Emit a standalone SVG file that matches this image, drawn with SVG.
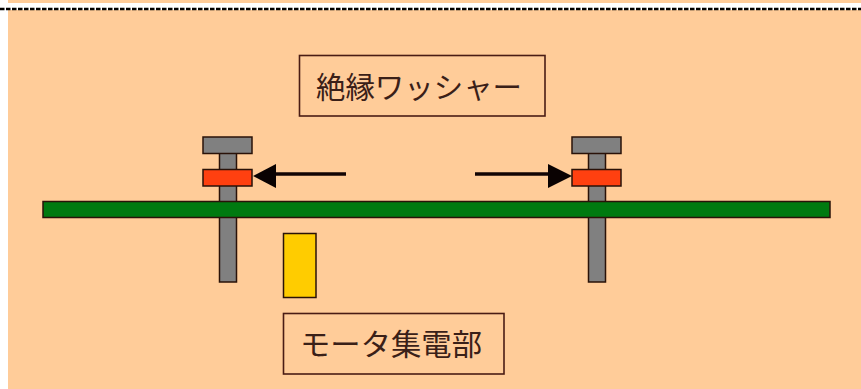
<svg xmlns="http://www.w3.org/2000/svg" width="861" height="389" viewBox="0 0 861 389">
<style>
.s{stroke:#2a1208;stroke-width:1.5}
.bolt{fill:#808080}
.washer{fill:#ff4010}
.lbl{fill:none;stroke:#4a1c14;stroke-width:1.6}
text{font-family:"Noto Sans CJK JP","Noto Sans CJK SC",sans-serif;font-size:29.5px;fill:#3a2018}
.arr{stroke:#120404;stroke-width:3.5;fill:none}
.head{fill:#0a0202;stroke:none}
</style>
<rect width="861" height="389" fill="#fff"/>
<rect x="8" y="0" width="853" height="3" fill="#ffcc99"/>
<rect x="8" y="10" width="853" height="379" fill="#ffcc99"/>
<line x1="0" y1="9" x2="861" y2="9" stroke="#000" stroke-width="2.4" stroke-dasharray="4.500 1.500"/>
<g id="bolt-left">
<rect class="bolt s" x="219.500" y="153" width="17" height="129"/>
<rect class="bolt s" x="203" y="137" width="49" height="16.500"/>
</g>
<g id="bolt-right">
<rect class="bolt s" x="588.500" y="153" width="17" height="129"/>
<rect class="bolt s" x="572" y="137" width="49" height="16.500"/>
</g>
<g id="washer-left"><rect class="washer s" x="203" y="169.500" width="49" height="16.500"/></g>
<g id="washer-right"><rect class="washer s" x="572" y="169.500" width="49" height="16.500"/></g>
<g id="board"><rect x="43" y="201.500" width="787" height="16" fill="#007a10" class="s"/></g>
<g id="collector"><rect x="283.500" y="233.500" width="32.500" height="64" fill="#ffcc00" class="s"/></g>
<g id="label-washer">
<rect class="lbl" x="299.500" y="55.500" width="245.500" height="60.500"/>
<text x="316" y="98" textLength="206" lengthAdjust="spacingAndGlyphs">絶縁ワッシャー</text>
</g>
<g id="label-collector">
<rect class="lbl" x="283.500" y="313.500" width="220.500" height="60.500"/>
<text x="300" y="355" textLength="182" lengthAdjust="spacingAndGlyphs">モータ集電部</text>
</g>
<g id="connectors">
<line class="arr" x1="346" y1="174" x2="272" y2="174"/>
<polygon class="head" points="253,176 276,164 276,188"/>
<line class="arr" x1="475" y1="174" x2="552" y2="174"/>
<polygon class="head" points="572,176 548,164 548,188"/>
</g>
</svg>
